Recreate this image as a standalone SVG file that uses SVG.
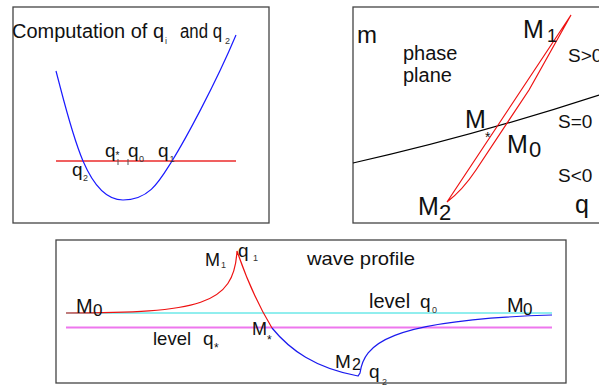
<svg xmlns="http://www.w3.org/2000/svg" width="599" height="387" viewBox="0 0 599 387">
<style>
text{font-family:"Liberation Sans",Arial,sans-serif;fill:#111}
.box{fill:#fff;stroke:#444;stroke-width:1.3}
.sub{font-size:9px;fill:#333}
.t19{font-size:19px}
.t20{font-size:20px}
.ph{font-size:25px}
.c{fill:none}
</style>
<rect width="599" height="387" fill="#fff"/>
<g id="computation">
<rect class="box" x="13" y="7" width="256" height="216"/>
<g id="comp-curves">
<path class="c" d="M56,161 H236" stroke="#f06060" stroke-width="2"/>
<path class="c" d="M56,71 C65,105 72,135 83,161 C92,182 105,200 123,200 C150,200 160,180 172,161 C185,140 215,85 236,35" stroke="#1a1aff" stroke-width="1.2"/>
<path class="c" d="M118,159 V165 M128,159 V165" stroke="#555" stroke-width="1"/>
</g>
<text class="t20" x="12" y="38" textLength="152" lengthAdjust="spacingAndGlyphs">Computation of q</text>
<text class="sub" x="165" y="44">i</text>
<text class="t20" x="180" y="38" textLength="42" lengthAdjust="spacingAndGlyphs">and q</text>
<text class="sub" x="225" y="44">2</text>
<text class="t19" x="105" y="157">q</text>
<text x="115.5" y="158.5" style="font-size:10px">*</text>
<text class="t19" x="128" y="157">q</text>
<text class="sub" x="139" y="162">0</text>
<text class="t19" x="158" y="157">q</text>
<text class="sub" x="169.5" y="162">1</text>
<text class="t19" x="72" y="176">q</text>
<text class="sub" x="83" y="181">2</text>
</g>
<g id="phase-plane">
<rect class="box" x="353" y="7" width="262" height="216"/>
<g id="phase-curves">
<path class="c" d="M353,163 Q470,137 599,95" stroke="#000" stroke-width="1.2"/>
<path class="c" d="M447,202 L571,15 C565,26 546,60 529,90 L476,170 C466,185 455,196 447,202 Z" stroke="#ee1111" stroke-width="1.2"/>
</g>
<text x="357" y="43" style="font-size:24px">m</text>
<text class="t20" x="403" y="60">phase</text>
<text class="t20" x="403" y="82">plane</text>
<text class="t19" x="568" y="62">S&gt;0</text>
<text class="t19" x="558" y="128">S=0</text>
<text class="t19" x="558" y="182">S&lt;0</text>
<text x="575" y="213" style="font-size:25px">q</text>
<text class="ph" x="523" y="38">M</text>
<text x="547" y="42" style="font-size:18px">1</text>
<text class="ph" x="465" y="128">M</text>
<text x="485" y="142" style="font-size:14px">*</text>
<text class="ph" x="507" y="153">M</text>
<text x="529" y="157" style="font-size:22px">0</text>
<text class="ph" x="418" y="215">M</text>
<text x="439" y="220" style="font-size:22px">2</text>
</g>
<g id="wave-profile">
<rect class="box" x="56" y="240" width="510" height="143"/>
<g id="wave-curves">
<path class="c" d="M66,313 H552" stroke="#22dddd" stroke-width="1"/>
<path class="c" d="M66,327.5 H552" stroke="#ee77ee" stroke-width="2"/>
<path class="c" d="M66,313 C200,313 234,305 237,251 Q252,295 272,328" stroke="#ee1111" stroke-width="1.2"/>
<path class="c" d="M272,328 C290,350 315,368 358,376 L360,373 C364,345 385,320 552,315" stroke="#1a1aee" stroke-width="1.2"/>
</g>
<text class="t20" x="76" y="313">M</text>
<text x="93" y="316" style="font-size:17px">0</text>
<text class="t20" x="507" y="312">M</text>
<text x="523" y="315" style="font-size:17px">0</text>
<text class="t20" x="369" y="308">level</text>
<text class="t19" x="420" y="308">q</text>
<text class="sub" x="432" y="313">0</text>
<text x="153" y="345" style="font-size:18.5px">level</text>
<text class="t19" x="203" y="345">q</text>
<text x="214" y="352" style="font-size:12px">*</text>
<text x="252" y="335" style="font-size:18px">M</text>
<text x="267" y="344" style="font-size:12px">*</text>
<text x="205" y="266" style="font-size:18px">M</text>
<text class="sub" x="221" y="268">1</text>
<text class="t19" x="238" y="257">q</text>
<text class="sub" x="253" y="261">1</text>
<text class="t19" x="307" y="265" textLength="108" lengthAdjust="spacingAndGlyphs">wave profile</text>
<text x="335" y="368" style="font-size:19px">M</text>
<text x="352" y="370" style="font-size:16px">2</text>
<text class="t19" x="369" y="378">q</text>
<text class="sub" x="382" y="385">2</text>
</g>
</svg>
